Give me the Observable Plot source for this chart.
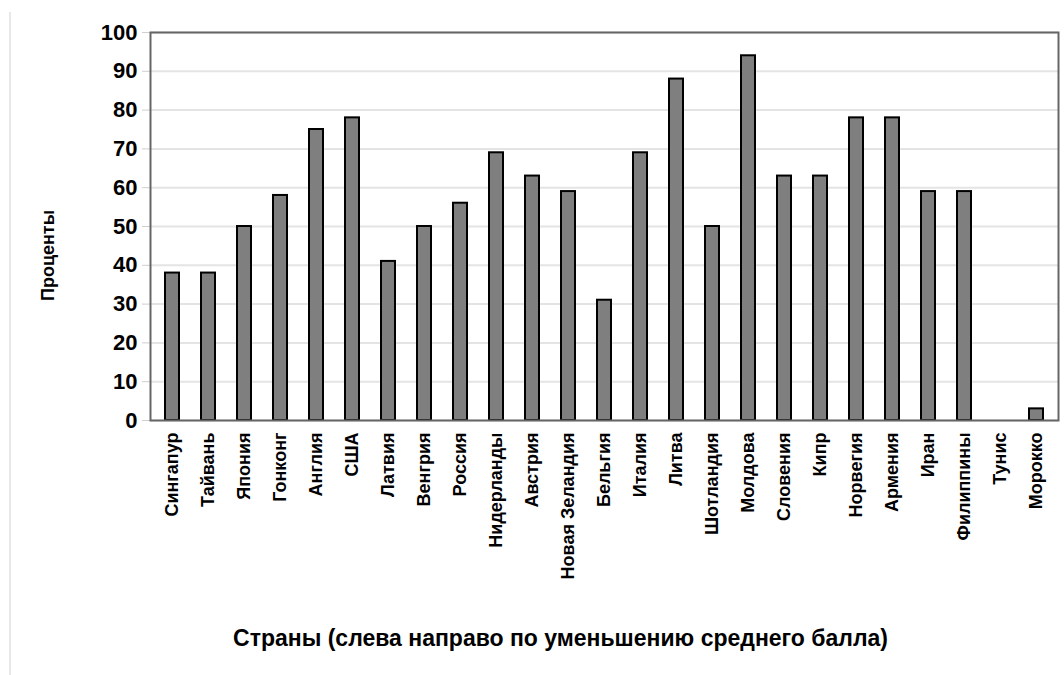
<!DOCTYPE html>
<html>
<head>
<meta charset="utf-8">
<script src="https://cdn.jsdelivr.net/npm/d3@7"></script>
<script src="https://cdn.jsdelivr.net/npm/@observablehq/plot@0.6"></script>
<style>
  body { margin: 0; background: #fff; }
  #chart { position: relative; width: 1064px; height: 675px; }
  #chart::before { content: ""; position: absolute; left: 9px; top: 12px; width: 2px; height: 663px; background: #e8e8e8; }
  #chart svg { display: block; }
</style>
</head>
<body>
<div id="chart"></div>
<script>
// Countries, ordered left to right by decreasing mean score
const countries = [
  "Сингапур", "Тайвань", "Япония", "Гонконг", "Англия", "США", "Латвия",
  "Венгрия", "Россия", "Нидерланды", "Австрия", "Новая Зеландия", "Бельгия",
  "Италия", "Литва", "Шотландия", "Молдова", "Словения", "Кипр", "Норвегия",
  "Армения", "Иран", "Филиппины", "Тунис", "Морокко"
];
// Percentage for each country
const percents = [
  38, 38, 50, 58, 75, 78, 41,
  50, 56, 69, 63, 59, 31,
  69, 88, 50, 94, 63, 63, 78,
  78, 59, 59, 0, 3
];
const yTicks = [0, 10, 20, 30, 40, 50, 60, 70, 80, 90, 100];
const yTitle = "Проценты";
const xTitle = "Страны (слева направо по уменьшению среднего балла)";

const rows = countries.map((country, i) => ({country, value: percents[i]}));

const font = '"Liberation Sans", Arial, sans-serif';

const chart = Plot.plot({
  width: 1064,
  height: 675,
  marginLeft: 150,
  marginRight: 6,
  marginTop: 32,
  marginBottom: 255,
  style: {fontFamily: font, fontWeight: "bold", background: "transparent", color: "#000"},
  x: {domain: countries, paddingInner: 0.62, paddingOuter: 0.31, label: null},
  y: {domain: [0, 100], label: null},
  marks: [
    Plot.gridY(yTicks, {stroke: "#e4e4e4", strokeOpacity: 1, strokeWidth: 2}),
    // faint tick marks outside the left edge
    Plot.axisY(yTicks, {tickSize: 8, tickFormat: () => "", stroke: "#cfcfcf", label: null}),
    Plot.axisY(yTicks, {tickSize: 0, tickPadding: 13, fontSize: 22, label: null}),
    Plot.axisX({tickSize: 0, tickRotate: -90, tickPadding: 12, fontSize: 18, label: null}),
    Plot.barY(rows, {x: "country", y: "value", fill: "#7f7f7f", stroke: "#000", strokeWidth: 2}),
    Plot.frame({stroke: "#666", strokeWidth: 2}),
    Plot.text([yTitle], {text: d => d, frameAnchor: "left", textAnchor: "middle", dx: -102, dy: 29, rotate: -90, fontSize: 18}),
    Plot.text([xTitle], {text: d => d, frameAnchor: "bottom", textAnchor: "middle", lineAnchor: "middle", dx: -44, dy: 218, fontSize: 23})
  ]
});

document.getElementById("chart").appendChild(chart);
</script>
</body>
</html>
